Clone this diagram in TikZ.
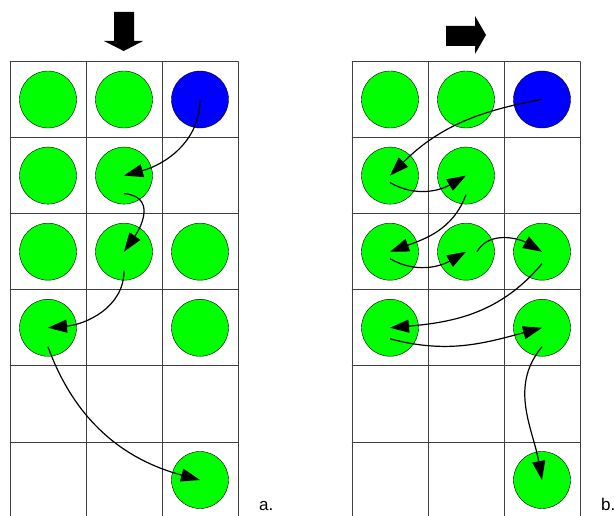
\documentclass[tikz,border=0pt]{standalone}
\usepackage{fontspec}
\setmainfont{Liberation Sans}
\usetikzlibrary{arrows.meta}
\definecolor{ballgreen}{rgb}{0, 1, 0}
\definecolor{ballblue}{rgb}{0, 0, 1}
\definecolor{gridgray}{rgb}{0.25, 0.25, 0.25}

\begin{document}
\begin{tikzpicture}[x=1pt, y=1pt,
    ball/.style={circle, draw=black, thin, minimum size=57pt, inner sep=0pt},
    move/.style={line width=1.2pt, -{Triangle[length=19pt, width=13pt]}},
    tag/.style={anchor=base west, inner sep=0pt, font=\fontsize{17}{20}\selectfont}]
    \useasboundingbox (0,0) rectangle (614,515);
    % the two boards
    \foreach \g in {10,352}{
      \foreach \i in {0,1,2,3}
        \draw[gridgray, line cap = round] (\g+76*\i, 453.5) -- (\g+76*\i, -5);
      \foreach \j in {0,...,5}
        \draw[gridgray, line cap = round] (\g, 453.5-76.05*\j) -- (\g+228, 453.5-76.05*\j);
    }
    % balls
    \foreach \g/\x in {a/48, b/390}{
      \foreach \r/\c in {1/1,1/2,2/1,2/2,3/1,3/2,3/3,4/1,4/3,6/3}
        \node[ball, fill=ballgreen] (\g\r\c) at (\x+76*\c-76, 415.5-76.1*\r+76.1) {};
      \node[ball, fill=ballblue] (\g13) at (\x+152, 415.5) {};
    }
    % block arrows
    \fill (114,503) -- (134,503) -- (134,474) -- (143,474) -- (123.7,464)
      -- (104,474) -- (114,474) -- cycle;
    \fill (446,489) -- (475,489) -- (475,499) -- (486,480) -- (475,461)
      -- (475,469) -- (446,469) -- cycle;
    % moves, board a
    \draw[move] (a13.center) to[out=-90, in=15] (a22.center);
    \draw[move] ([yshift=-18pt]a22.center) to[out=-5, in=55, looseness=1.4] (a32.center);
    \draw[move] ([yshift=-19pt]a32.center) to[out=-90, in=5] (a41.center);
    \draw[move] ([yshift=-19pt]a41.center) to[out=-70, in=165] (a63.center);
    % moves, board b
    \draw[move] (b13.center) to[out=190, in=45] (b21.center);
    \draw[move] ([yshift=-7pt]b21.center) to[out=-30, in=-150] (b22.center);
    \draw[move] ([yshift=-19pt]b22.center) to[out=-110, in=20] (b31.center);
    \draw[move] ([yshift=-7pt]b31.center) to[out=-30, in=-150] (b32.center);
    \draw[move] ([xshift=11pt]b32.center) to[out=60, in=150] (b33.center);
    \draw[move] ([yshift=-12pt]b33.center) to[out=-130, in=5] (b41.center);
    \draw[move] ([yshift=-11pt]b41.center) to[out=-15, in=-165] (b43.center);
    \draw[move] ([yshift=-19pt]b43.center) to[out=-130, in=100] (b63.center);
    % captions
    \node[tag] (capa) at (259,5) {a.};
    \node[tag] (capb) at (601,5) {b.};
\end{tikzpicture}
\end{document}
